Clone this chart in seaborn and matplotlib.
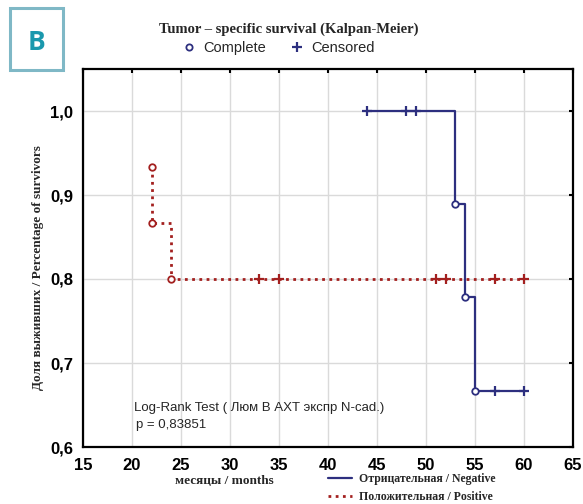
import matplotlib
matplotlib.use("Agg")
import matplotlib.pyplot as plt
import seaborn as sns
import pandas as pd
from matplotlib.lines import Line2D
from matplotlib.patches import Rectangle

# ---- data ----
neg_step_x = [44, 53, 54, 55, 60]
neg_step_y = [1.0, 0.889, 0.778, 0.667, 0.667]
neg_event_x = [53, 54, 55]
neg_event_y = [0.889, 0.778, 0.667]
neg_cens_x = [44, 48, 49, 57, 60]
neg_cens_y = [1.0, 1.0, 1.0, 0.667, 0.667]

pos_step_x = [22, 22, 24, 60]
pos_step_y = [0.933, 0.867, 0.8, 0.8]
pos_event_x = [22, 22, 24]
pos_event_y = [0.933, 0.867, 0.8]
pos_cens_x = [33, 35, 51, 52, 57, 60]
pos_cens_y = [0.8, 0.8, 0.8, 0.8, 0.8, 0.8]

x_ticks = [15, 20, 25, 30, 35, 40, 45, 50, 55, 60, 65]
y_ticks = [0.6, 0.7, 0.8, 0.9, 1.0]
y_ticklabels = ["0,6", "0,7", "0,8", "0,9", "1,0"]

NAVY = "#2d2f7f"
RED = "#a3201f"

sns.set_style("white")
plt.rcParams["font.family"] = ["Liberation Sans", "DejaVu Sans"]

fig = plt.figure(figsize=(5.83, 5.04), dpi=100)
ax = fig.add_axes([83 / 583, 1 - 447 / 504, (573 - 83) / 583, (447 - 69) / 504])

neg_df = pd.DataFrame({"x": neg_step_x, "y": neg_step_y})
pos_df = pd.DataFrame({"x": pos_step_x, "y": pos_step_y})

sns.lineplot(data=neg_df, x="x", y="y", estimator=None, sort=False, ax=ax,
             color=NAVY, lw=1.6, drawstyle="steps-post")
sns.lineplot(data=pos_df, x="x", y="y", estimator=None, sort=False, ax=ax,
             color=RED, lw=2.0, drawstyle="steps-post", linestyle=(0, (1.0, 1.6)))

sns.scatterplot(x=neg_cens_x, y=neg_cens_y, ax=ax, marker="+", color=NAVY,
                s=55, linewidth=1.6, zorder=5)
sns.scatterplot(x=pos_cens_x, y=pos_cens_y, ax=ax, marker="+", color=RED,
                s=55, linewidth=1.6, zorder=5)
sns.scatterplot(x=neg_event_x, y=neg_event_y, ax=ax, marker="o", facecolor="white",
                edgecolor=NAVY, s=22, linewidth=1.3, zorder=6)
sns.scatterplot(x=pos_event_x, y=pos_event_y, ax=ax, marker="o", facecolor="white",
                edgecolor=RED, s=22, linewidth=1.3, zorder=6)

ax.set_xlim(15, 65)
ax.set_ylim(0.6, 1.05)
ax.set_xticks(x_ticks)
ax.set_yticks(y_ticks)
ax.set_yticklabels(y_ticklabels)
ax.grid(True, color="#dadada", lw=1.0)
ax.set_axisbelow(True)
for s in ax.spines.values():
    s.set_visible(True)
    s.set_color("black")
    s.set_linewidth(1.6)
ax.tick_params(direction="in", length=3, width=1.5, top=True, right=True,
               labelsize=12, colors="black")
ax.tick_params(axis="x", pad=8)
ax.tick_params(axis="y", pad=7)
for lab in ax.get_xticklabels() + ax.get_yticklabels():
    lab.set_fontweight("bold")
ax.set_xlabel("")
ax.set_ylabel("")

ax.text(20.2, 0.646, "Log-Rank Test ( Люм В АХТ экспр N-cad.)", fontsize=9.5,
        va="center", ha="left")
ax.text(20.4, 0.626, "p = 0,83851", fontsize=9.5, va="center", ha="left")

serif = ["Liberation Serif", "DejaVu Serif"]
fig.text(289 / 583, 1 - 29 / 504, "Tumor – specific survival (Kalpan-Meier)",
         family=serif, fontweight="bold", fontsize=10.5, ha="center", va="center")
fig.text(38 / 583, 1 - 268 / 504, "Доля выживших / Percentage of survivors",
         family=serif, fontweight="bold", fontsize=9.5, ha="center", va="center",
         rotation=90)
fig.text(224 / 583, 1 - 481 / 504, "месяцы / months", family=serif,
         fontweight="bold", fontsize=9.5, ha="center", va="center")

# top legend
h1 = Line2D([], [], marker="o", mfc="white", mec=NAVY, mew=1.3, ms=4.5, ls="")
h2 = Line2D([], [], marker="+", color=NAVY, mew=1.6, ms=7, ls="")
fig.legend(handles=[h1, h2], labels=["Complete", "Censored"], ncol=2,
           loc="center", bbox_to_anchor=(278 / 583, 1 - 48 / 504), frameon=False,
           fontsize=10.5, handlelength=1.0, handletextpad=0.5, columnspacing=1.6)

# bottom legend
h3 = Line2D([], [], color=NAVY, lw=1.6)
h4 = Line2D([], [], color=RED, lw=2.0, ls=(0, (1.0, 1.6)))
fig.legend(handles=[h3, h4],
           labels=["Отрицательная / Negative", "Положительная / Positive"],
           loc="upper left", bbox_to_anchor=(322 / 583, 1 - 467 / 504), frameon=False,
           prop={"family": serif, "weight": "bold", "size": 8.5},
           handlelength=2.0, handletextpad=0.6, labelspacing=0.5, borderpad=0)

# "B" panel badge
fig.patches.append(Rectangle((10 / 583, 1 - 70 / 504), 53 / 583, 62 / 504,
                             transform=fig.transFigure, fill=False,
                             edgecolor="#7fb8c6", lw=2.2))
fig.text(37 / 583, 1 - 42 / 504, "B", color="#1a98ad", fontsize=19,
         fontweight="bold", ha="center", va="center",
         family=["Open Sans", "DejaVu Sans"])

fig.savefig("out.png", dpi=100)
